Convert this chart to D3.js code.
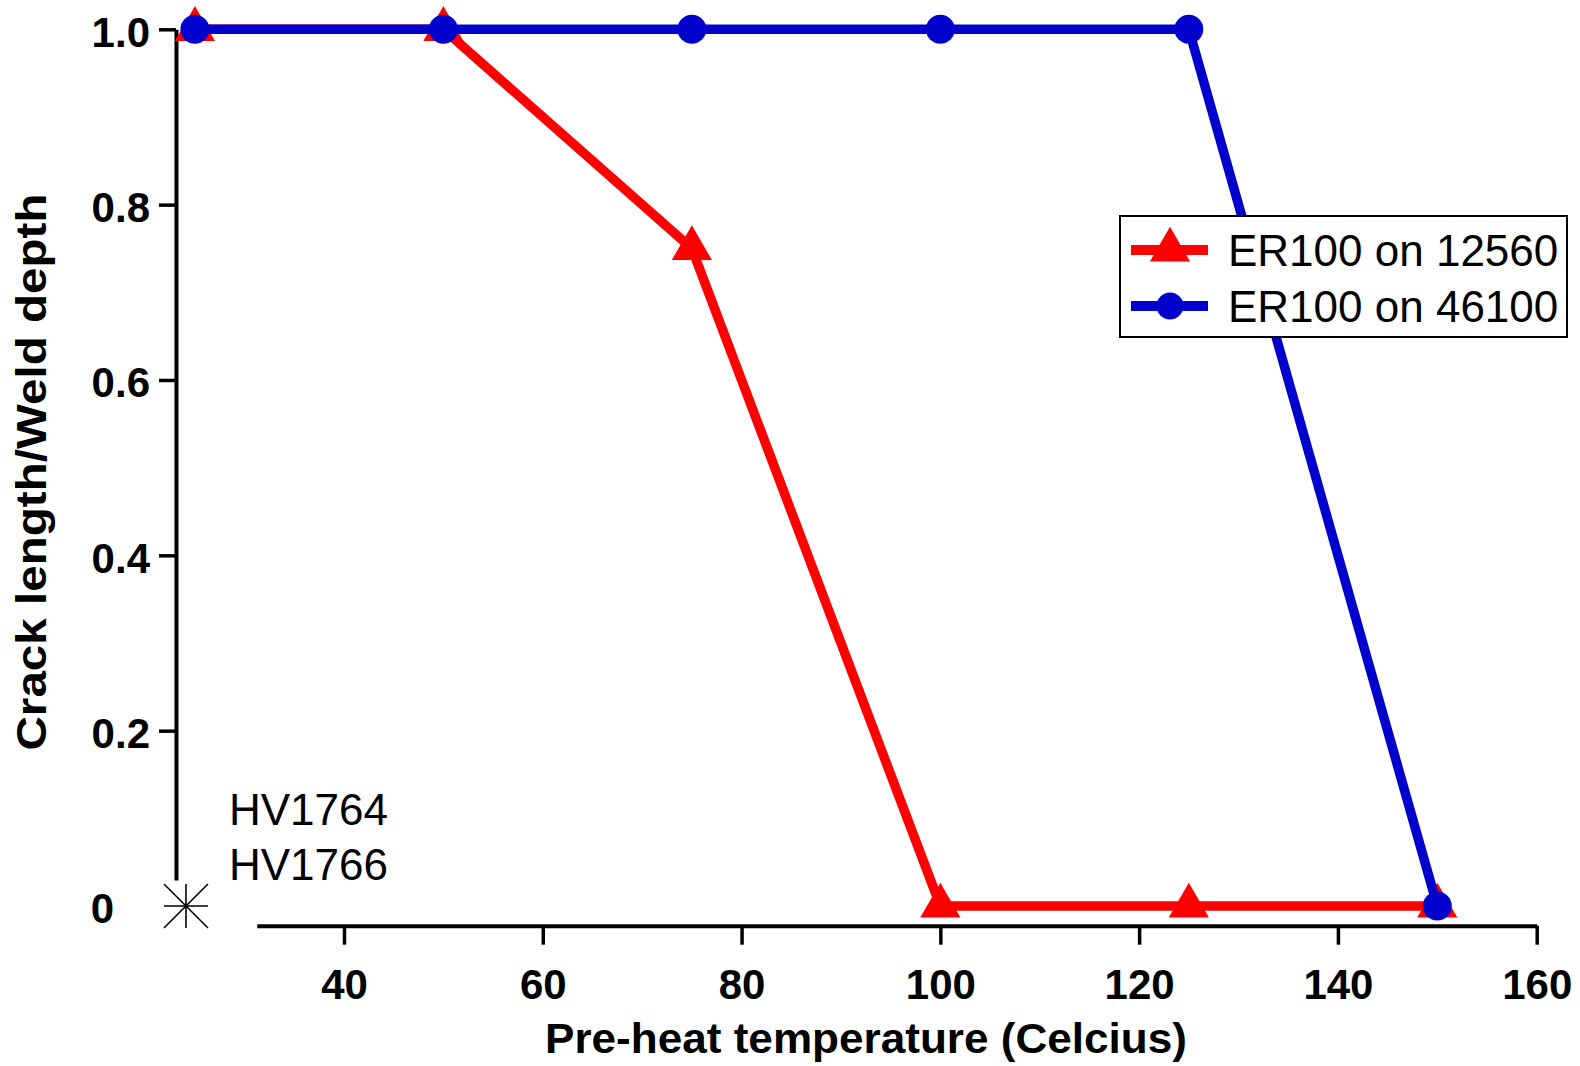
<!DOCTYPE html>
<html>
<head>
<meta charset="utf-8">
<script src="https://cdn.jsdelivr.net/npm/d3@7"></script>
<style>
  html, body { margin: 0; padding: 0; background: #fff; }
  svg { display: block; }
  text { font-family: "Liberation Sans", Arial, Helvetica, sans-serif; }
</style>
</head>
<body>
<svg id="chart" width="1580" height="1066"></svg>
<script>
// ---- data ----
const temperatures = [25, 50, 75, 100, 125, 150];
const seriesNames = ["ER100 on 12560", "ER100 on 46100"];
const valuesER12560 = [1, 1, 0.75, 0, 0, 0];
const valuesER46100 = [1, 1, 1, 1, 1, 0];
const seriesColors = ["#ff0000", "#0000cc"];
const xTickValues = [40, 60, 80, 100, 120, 140, 160];
const yTickValues = [0.2, 0.4, 0.6, 0.8, 1.0];
const yZeroTick = [0];
const asteriskPoints = [{ x: 24.1, y: 0 }];
const annotationLines = ["HV1764", "HV1766"];
const xTitle = "Pre-heat temperature (Celcius)";
const yTitle = "Crack length/Weld depth";

// ---- scales ----
const x = d3.scaleLinear().domain([40, 160]).range([344, 1536.7]);
const y = d3.scaleLinear().domain([0, 1]).range([906, 29.3]);

const svg = d3.select("#chart");

// ---- axes ----
const xAxisScale = x.copy().domain([x.invert(256.7), 160]).range([256.7, 1536.7]);
const gx = svg.append("g")
  .attr("transform", "translate(0,925.7)")
  .call(d3.axisBottom(xAxisScale).tickValues(xTickValues).tickSize(19).tickSizeOuter(0).tickPadding(24).tickFormat(d3.format("d")));
gx.select(".domain").attr("stroke", "#000").attr("stroke-width", 4);
gx.selectAll(".tick line").attr("stroke", "#000").attr("stroke-width", 3.5);
gx.selectAll(".tick text").attr("font-size", 42).attr("font-weight", "bold").attr("fill", "#000")
  .attr("font-family", "'Liberation Sans', Arial, sans-serif");

const yAxisScale = y.copy().domain([y.invert(880), 1]).range([880, y(1)]);
const gy = svg.append("g")
  .attr("transform", "translate(176,0)")
  .call(d3.axisLeft(yAxisScale).tickValues(yTickValues).tickSize(17).tickSizeOuter(0).tickPadding(9).tickFormat(d3.format(".1f")));
gy.select(".domain").attr("stroke", "#000").attr("stroke-width", 4);
gy.selectAll(".tick line").attr("stroke", "#000").attr("stroke-width", 3.5);
gy.selectAll(".tick text").attr("font-size", 42).attr("font-weight", "bold").attr("fill", "#000")
  .attr("dy", "0.4em").attr("font-family", "'Liberation Sans', Arial, sans-serif");

// separate zero label (broken axis)
const gy0 = svg.append("g")
  .attr("transform", "translate(176,0)")
  .call(d3.axisLeft(y).tickValues(yZeroTick).tickSize(0).tickPadding(62).tickFormat(d3.format("d")));
gy0.select(".domain").remove();
gy0.selectAll(".tick text").attr("font-size", 42).attr("font-weight", "bold").attr("fill", "#000")
  .attr("dy", "0.4em").attr("font-family", "'Liberation Sans', Arial, sans-serif");

// ---- axis titles ----
svg.append("text")
  .attr("x", 866).attr("y", 1053)
  .attr("text-anchor", "middle")
  .attr("font-size", 43).attr("font-weight", "bold")
  .attr("textLength", 642).attr("lengthAdjust", "spacingAndGlyphs")
  .text(xTitle);

svg.append("text")
  .attr("transform", "translate(46,472) rotate(-90)")
  .attr("text-anchor", "middle")
  .attr("font-size", 43).attr("font-weight", "bold")
  .attr("textLength", 557).attr("lengthAdjust", "spacingAndGlyphs")
  .text(yTitle);

// ---- series ----
const line = d3.line().x(d => x(d.t)).y(d => y(d.v));
const triangle = d3.symbol().type(d3.symbolTriangle).size(700);

const seriesData = [valuesER12560, valuesER46100].map(vals => temperatures.map((t, i) => ({ t, v: vals[i] })));

// red series
svg.append("path").datum(seriesData[0])
  .attr("d", line).attr("fill", "none").attr("stroke", seriesColors[0]).attr("stroke-width", 9.5)
  .attr("stroke-linejoin", "miter");
svg.append("g").selectAll("path").data(seriesData[0]).join("path")
  .attr("d", triangle)
  .attr("transform", d => `translate(${x(d.t)},${y(d.v)})`)
  .attr("fill", seriesColors[0]);

// blue series
svg.append("path").datum(seriesData[1])
  .attr("d", line).attr("fill", "none").attr("stroke", seriesColors[1]).attr("stroke-width", 9.5)
  .attr("stroke-linejoin", "miter");
svg.append("g").selectAll("circle").data(seriesData[1]).join("circle")
  .attr("cx", d => x(d.t)).attr("cy", d => y(d.v)).attr("r", 14.5)
  .attr("fill", seriesColors[1]);

// ---- asterisk ----
const ast = svg.append("g").selectAll("g").data(asteriskPoints).join("g")
  .attr("transform", d => `translate(${x(d.x)},${y(d.y)})`);
const a = 22;
ast.append("path")
  .attr("d", `M${-a},0L${a},0M0,${-a}L0,${a}M${-a},${-a}L${a},${a}M${-a},${a}L${a},${-a}`)
  .attr("stroke", "#000").attr("stroke-width", 1.6).attr("fill", "none");

// ---- annotation ----
svg.append("g").selectAll("text").data(annotationLines).join("text")
  .attr("x", 229).attr("y", (d, i) => 825 + i * 54.5)
  .attr("font-size", 44).attr("fill", "#000")
  .text(d => d);

// ---- legend ----
const lg = svg.append("g");
lg.append("rect").attr("x", 1120).attr("y", 216).attr("width", 447).attr("height", 121)
  .attr("fill", "#fff").attr("stroke", "#000").attr("stroke-width", 2);
const legendRows = lg.selectAll("g").data(seriesNames).join("g")
  .attr("transform", (d, i) => `translate(0,${250 + i * 56})`);
legendRows.append("line").attr("x1", 1131).attr("x2", 1208).attr("y1", 0).attr("y2", 0)
  .attr("stroke", (d, i) => seriesColors[i]).attr("stroke-width", 10);
legendRows.filter((d, i) => i === 0).append("path")
  .attr("d", triangle).attr("transform", "translate(1170,0)").attr("fill", seriesColors[0]);
legendRows.filter((d, i) => i === 1).append("circle")
  .attr("cx", 1170).attr("cy", 0).attr("r", 13.5).attr("fill", seriesColors[1]);
legendRows.append("text").attr("x", 1228).attr("y", 16)
  .attr("font-size", 44).attr("fill", "#000").text(d => d);
</script>
</body>
</html>
